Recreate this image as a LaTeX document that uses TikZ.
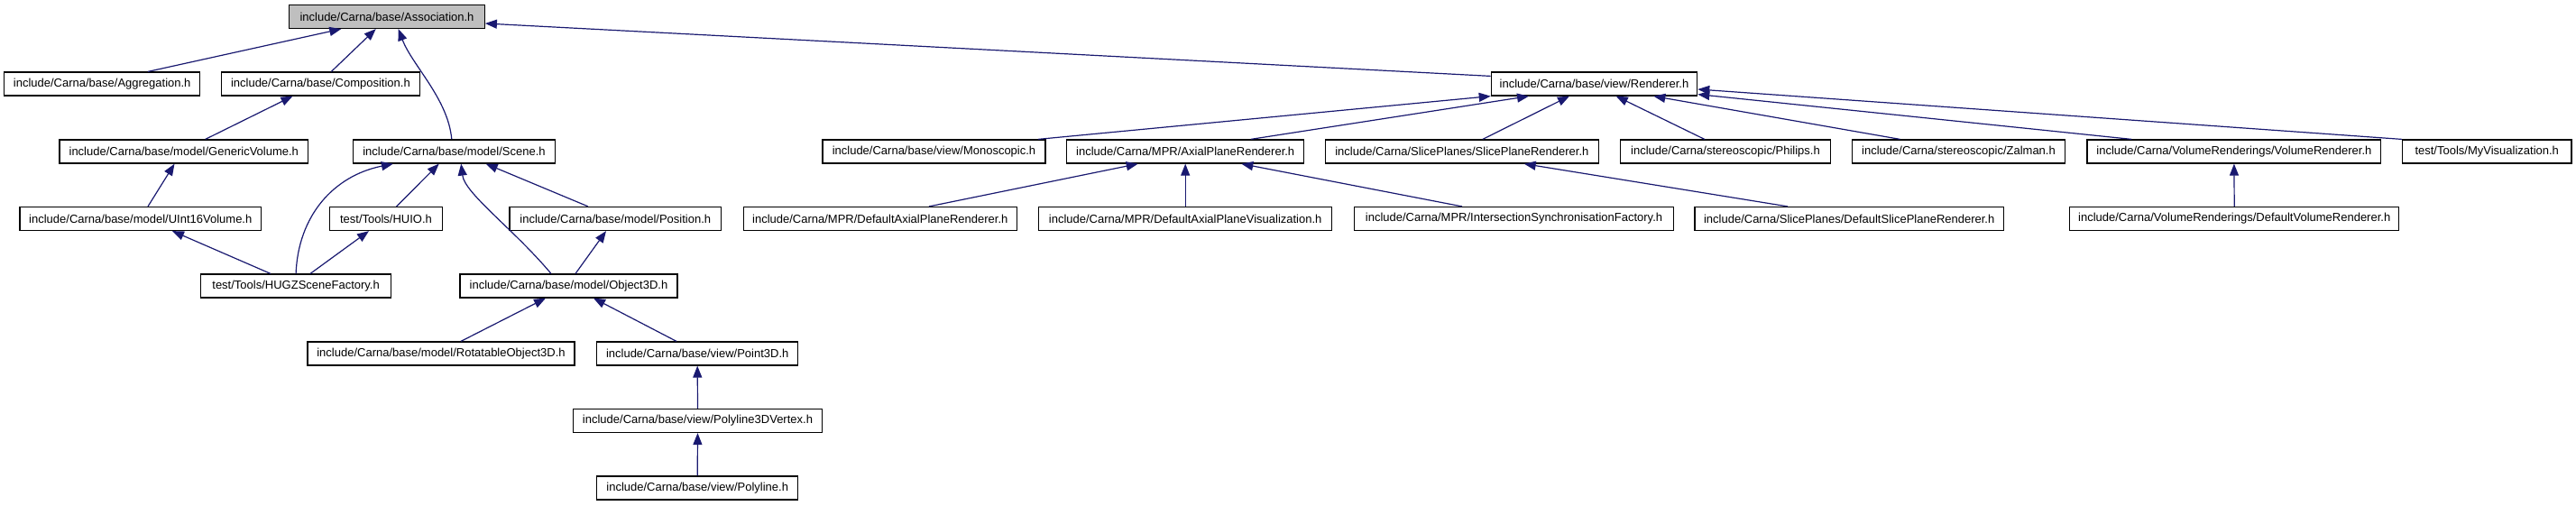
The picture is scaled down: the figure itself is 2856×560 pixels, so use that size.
\documentclass[tikz,border=0pt]{standalone}
\usepackage{fontspec}
\setmainfont{Liberation Sans}
\usetikzlibrary{arrows.meta}

\definecolor{edgeblue}{RGB}{25,25,112}
\definecolor{rootgray}{RGB}{191,191,191}

\begin{document}
\begin{tikzpicture}[x=1pt, y=-1pt,
    file/.style={draw=black, line width=1.2pt, fill=white, inner sep=0pt,
        minimum height=26pt, font=\fontsize{13}{15}\selectfont},
    edge/.style={draw=edgeblue, line width=1.2pt,
        -{Triangle[length=13pt, width=10pt]}}]

\useasboundingbox (0,0) rectangle (2856,560);

% root
\node[file, fill=rootgray, minimum width=216.6] (assoc) at (429,18.5) {include/Carna/base/Association.h};

% row 1
\node[file, minimum width=216.7] (aggr)   at (113.2,93) {include/Carna/base/Aggregation.h};
\node[file, minimum width=219.8] (compo)  at (355.4,93) {include/Carna/base/Composition.h};
\node[file, minimum width=228.4] (render) at (1767.5,93) {include/Carna/base/view/Renderer.h};

% row 2
\node[file, minimum width=275.6] (genvol)  at (203.8,168) {include/Carna/base/model/GenericVolume.h};
\node[file, minimum width=223.5] (scene)   at (503.5,168) {include/Carna/base/model/Scene.h};
\node[file, minimum width=247.0] (mono)    at (1035.5,168) {include/Carna/base/view/Monoscopic.h};
\node[file, minimum width=262.7] (axial)   at (1314.2,168) {include/Carna/MPR/AxialPlaneRenderer.h};
\node[file, minimum width=303.1] (slice)   at (1620.9,168) {include/Carna/SlicePlanes/SlicePlaneRenderer.h};
\node[file, minimum width=233.3] (philips) at (1913,168) {include/Carna/stereoscopic/Philips.h};
\node[file, minimum width=236.1] (zalman)  at (2171.5,168) {include/Carna/stereoscopic/Zalman.h};
\node[file, minimum width=325.9] (volrend) at (2476.9,168) {include/Carna/VolumeRenderings/VolumeRenderer.h};
\node[file, minimum width=187.4] (myvis)   at (2757.2,168) {test/Tools/MyVisualization.h};

% row 3
\node[file, minimum width=267.6] (uint16)    at (155.8,242.5) {include/Carna/base/model/UInt16Volume.h};
\node[file, minimum width=124.9] (huio)      at (428,242.5) {test/Tools/HUIO.h};
\node[file, minimum width=234.5] (position)  at (682.3,242.5) {include/Carna/base/model/Position.h};
\node[file, minimum width=303.0] (defaxial)  at (975.8,242.5) {include/Carna/MPR/DefaultAxialPlaneRenderer.h};
\node[file, minimum width=325.1] (defaxvis)  at (1314.2,242.5) {include/Carna/MPR/DefaultAxialPlaneVisualization.h};
\node[file, minimum width=353.5] (intersect) at (1678.5,242.5) {include/Carna/MPR/IntersectionSynchronisationFactory.h};
\node[file, minimum width=342.6] (defslice)  at (2050.2,242.5) {include/Carna/SlicePlanes/DefaultSlicePlaneRenderer.h};
\node[file, minimum width=365.1] (defvol)    at (2477.2,242.5) {include/Carna/VolumeRenderings/DefaultVolumeRenderer.h};

% row 4
\node[file, minimum width=210.6] (hugz)     at (328.1,317) {test/Tools/HUGZSceneFactory.h};
\node[file, minimum width=241.0] (object3d) at (630.5,317) {include/Carna/base/model/Object3D.h};

% rows 5 to 7
\node[file, minimum width=296.0] (rotobj)   at (489,392) {include/Carna/base/model/RotatableObject3D.h};
\node[file, minimum width=222.8] (point3d)  at (773.2,392) {include/Carna/base/view/Point3D.h};
\node[file, minimum width=276.1] (polyvert) at (773.5,466.5) {include/Carna/base/view/Polyline3DVertex.h};
\node[file, minimum width=222.8] (polyline) at (773.2,541) {include/Carna/base/view/Polyline.h};

% edges to the root
\draw[edge] ([xshift=50.8pt]aggr.north) -- ([xshift=-50.7pt]assoc.south);
\draw[edge] ([xshift=11.9pt]compo.north) -- ([xshift=-12.3pt]assoc.south);
\draw[edge] ([xshift=-2.7pt]scene.north) .. controls +(-4,-45) and +(15,40) .. ([xshift=12.7pt]assoc.south);
\draw[edge] ([yshift=-5pt]render.north west) -- ([yshift=-7.5pt]assoc.east);

% model side
\draw[edge] ([xshift=23.9pt]genvol.north) -- ([xshift=-30.9pt]compo.south);
\draw[edge] ([xshift=8.2pt]uint16.north) -- ([xshift=-10.3pt]genvol.south);
\draw[edge] ([xshift=-28.1pt]hugz.north) -- ([xshift=35.2pt]uint16.south);
\draw[edge] (hugz.north) .. controls +(2.5,-64.3) and +(-66,13.3) .. ([xshift=-67.6pt]scene.south);
\draw[edge] ([xshift=15.9pt]hugz.north) -- ([xshift=-19pt]huio.south);
\draw[edge] ([xshift=11.6pt]huio.north) -- ([xshift=-16.8pt]scene.south);
\draw[edge] ([xshift=-19.5pt]object3d.north) .. controls +(-41,-49) and +(4,33) .. ([xshift=7.7pt]scene.south);
\draw[edge] ([xshift=-30.3pt]position.north) -- ([xshift=35.2pt]scene.south);
\draw[edge] ([xshift=7.5pt]object3d.north) -- ([xshift=-10.3pt]position.south);
\draw[edge] ([xshift=22pt]rotobj.north) -- ([xshift=-25.5pt]object3d.south);
\draw[edge] ([xshift=-23.2pt]point3d.north) -- ([xshift=27.5pt]object3d.south);
\draw[edge] (polyvert.north) -- (point3d.south);
\draw[edge] (polyline.north) -- (polyvert.south);

% view side
\draw[edge] ([xshift=115.5pt]mono.north) -- (render.south west);
\draw[edge] ([xshift=72.5pt]axial.north) -- ([xshift=-72.5pt]render.south);
\draw[edge] ([xshift=22.9pt]slice.north) -- ([xshift=-27.5pt]render.south);
\draw[edge] ([xshift=-23.2pt]philips.north) -- ([xshift=24.2pt]render.south);
\draw[edge] ([xshift=-64.9pt]zalman.north) -- ([xshift=65.8pt]render.south);
\draw[edge] ([xshift=-113.6pt]volrend.north) -- ([yshift=2pt]render.south east);
\draw[edge] (myvis.north west) -- ([yshift=-6pt]render.east);
\draw[edge] ([xshift=54.2pt]defaxial.north) -- ([xshift=-52.5pt]axial.south);
\draw[edge] (defaxvis.north) -- (axial.south);
\draw[edge] ([xshift=-57.5pt]intersect.north) -- ([xshift=62.1pt]axial.south);
\draw[edge] ([xshift=-68.2pt]defslice.north) -- ([xshift=68.8pt]slice.south);
\draw[edge] (defvol.north) -- (volrend.south);

\end{tikzpicture}
\end{document}
